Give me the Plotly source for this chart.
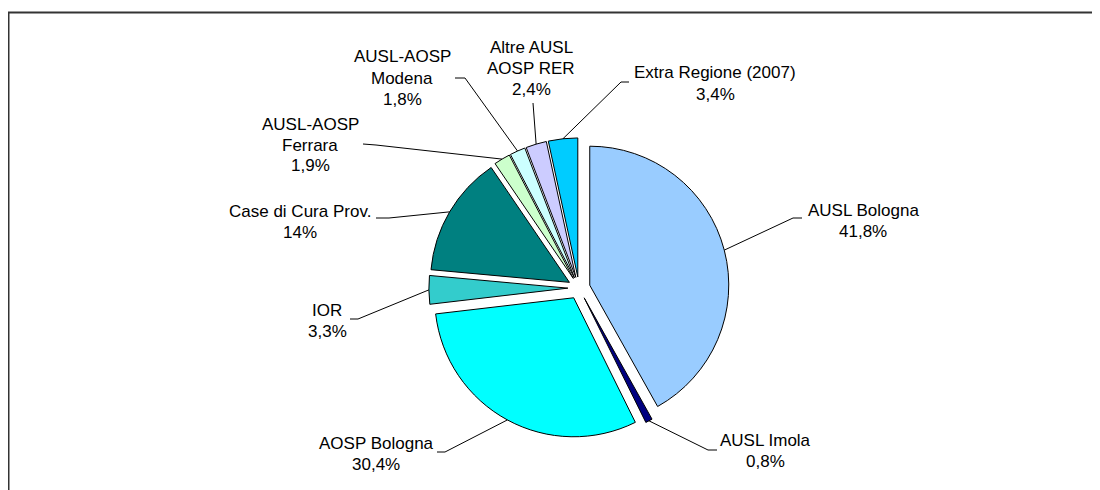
import math
import plotly.graph_objects as go

# ---- data ----
labels = ["AUSL Bologna", "AUSL Imola", "AOSP Bologna", "IOR", "Case di Cura Prov.",
          "AUSL-AOSP Ferrara", "AUSL-AOSP Modena", "Altre AUSL AOSP RER", "Extra Regione (2007)"]
values = [41.8, 0.8, 30.4, 3.3, 14, 1.9, 1.8, 2.4, 3.4]
label_lines = [["AUSL Bologna"], ["AUSL Imola"], ["AOSP Bologna"], ["IOR"], ["Case di Cura Prov."],
               ["AUSL-AOSP", "Ferrara"], ["AUSL-AOSP", "Modena"], ["Altre AUSL", "AOSP RER"],
               ["Extra Regione (2007)"]]
colors = ["#99CCFF", "#000080", "#00FFFF", "#33CCCC", "#008080",
          "#CCFFCC", "#CCFFFF", "#CCCCFF", "#00CCFF"]

# ---- layout geometry (page pixels) ----
OFF = 8  # default page body margin
W, H = 1100 - OFF, 490 - OFF
CX, CY = 579.0, 288.0
R = 139.0
PULL = 0.08
BOX = 2 * R * (1 + PULL)

# label placement: (center x, first line center y), leader elbow, leader end
label_pos = [
    ((863, 210), (793, 218), (802, 218)),
    ((765, 440), (708, 450), (717, 450)),
    ((376, 443), (445, 452), (437, 452)),
    ((327, 310), (358, 319), (350, 319)),
    ((300, 211), (389, 218), (376, 218)),
    ((310, 124), (376, 145), (363, 144)),
    ((402, 57), (465, 78), (455, 78)),
    ((531, 47), (533, 103), (533, 103)),
    ((715, 73), (621, 82), (629, 82)),
]
LINE_H = 21
FONT = dict(family="Liberation Sans, Arial, sans-serif", size=17, color="black")


def px(x):
    return (x - OFF) / W


def py(y):
    return 1 - (y - OFF) / H


fig = go.Figure(go.Pie(
    labels=labels, values=values, sort=False, direction="clockwise", rotation=0,
    pull=[PULL] * len(values),
    marker=dict(colors=colors, line=dict(color="black", width=1)),
    textinfo="none", hoverinfo="label+percent", showlegend=False,
    domain=dict(x=[px(CX - BOX / 2), px(CX + BOX / 2)],
                y=[py(CY + BOX / 2), py(CY - BOX / 2)]),
))

total = sum(values)
cum = 0.0
shapes = [dict(type="rect", xref="paper", yref="paper",
               x0=px(8.5), y0=py(12.5), x1=1.05, y1=-0.05,
               line=dict(color="#333333", width=2), fillcolor="rgba(0,0,0,0)", layer="below")]
annotations = []
for i, v in enumerate(values):
    theta = 2 * math.pi * (cum + v / 2) / total
    cum += v
    sx = CX + R * (1 + PULL) * math.sin(theta)
    sy = CY - R * (1 + PULL) * math.cos(theta)
    (lx, ly), (ex, ey), (tx, ty) = label_pos[i]
    path = f"M {px(sx)} {py(sy)} L {px(ex)} {py(ey)} L {px(tx)} {py(ty)}"
    shapes.append(dict(type="path", xref="paper", yref="paper", path=path,
                       line=dict(color="black", width=1)))
    pct = f"{v:g}".replace(".", ",") + "%"
    lines = label_lines[i] + [pct]
    for k, t in enumerate(lines):
        annotations.append(dict(x=px(lx), y=py(ly + k * LINE_H), xref="paper", yref="paper",
                                text=t, showarrow=False, xanchor="center", yanchor="middle",
                                font=FONT))

fig.update_layout(width=W, height=H, margin=dict(l=0, r=0, t=0, b=0),
                  paper_bgcolor="white", plot_bgcolor="white",
                  shapes=shapes, annotations=annotations)
fig.write_html("out.html")
